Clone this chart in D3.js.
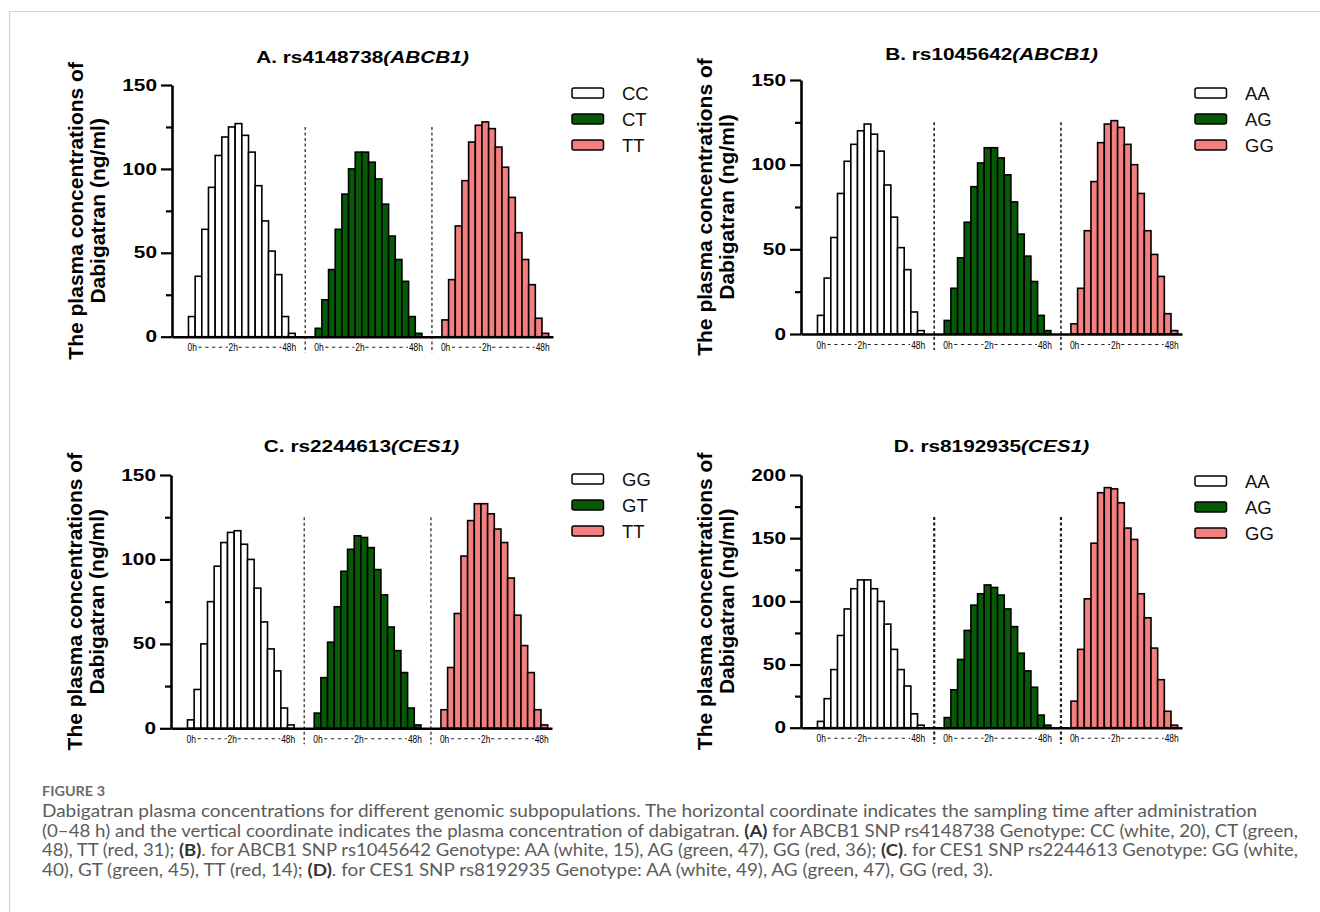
<!DOCTYPE html>
<html>
<head>
<meta charset="utf-8">
<script src="https://cdn.jsdelivr.net/npm/d3@7"></script>
<style>
  body { margin: 0; background: #fff; }
  text { font-family: "Liberation Sans", Arial, sans-serif; }
</style>
</head>
<body>
<svg width="1320" height="912"></svg>
<script>
let svg = d3.select("svg")

// concentrations (ng/ml), 16 sampling times per genotype: 0h ... 2h ... 48h
let aCC = [12, 36, 64, 89, 108, 119, 125, 127, 120, 110, 90, 69, 51, 37, 12, 2]
let aCT = [5, 22, 40, 64, 85, 100, 110, 110, 104, 94, 79, 60, 46, 33, 12, 2]
let aTT = [10, 34, 66, 93, 116, 126, 128, 124, 113, 101, 83, 62, 46, 31, 11, 2]

let bAA = [11, 33, 57, 83, 102, 112, 120, 124, 118, 108, 88, 69, 51, 38, 13, 2]
let bAG = [8, 27, 45, 66, 87, 101, 110, 110, 104, 94, 78, 59, 46, 31, 11, 2]
let bGG = [6, 27, 61, 90, 113, 124, 126, 122, 112, 100, 83, 61, 47, 34, 12, 2]

let cGG = [5, 23, 50, 75, 96, 110, 116, 117, 109, 100, 83, 63, 47, 34, 12, 2]
let cGT = [9, 30, 51, 72, 93, 106, 114, 113, 107, 94, 79, 60, 46, 33, 12, 2]
let cTT = [11, 36, 68, 102, 123, 133, 133, 127, 118, 110, 89, 67, 49, 33, 11, 2]

let dAA = [5, 23, 46, 73, 94, 110, 117, 117, 110, 100, 82, 62, 46, 33, 11, 2]
let dAG = [8, 30, 54, 77, 97, 106, 113, 111, 105, 94, 80, 59, 45, 32, 10, 2]
let dGG = [21, 62, 102, 146, 186, 190, 189, 178, 158, 149, 106, 87, 63, 38, 13, 2]

let timeLabels = ["0h", "2h", "48h"]
let yMaxes = [150, 150, 150, 200]
let titles = [["A. rs4148738", "(ABCB1)"], ["B. rs1045642", "(ABCB1)"],
              ["C. rs2244613", "(CES1)"], ["D. rs8192935", "(CES1)"]]
let genotypes = [["CC", "CT", "TT"], ["AA", "AG", "GG"], ["GG", "GT", "TT"], ["AA", "AG", "GG"]]
let series = [[aCC, aCT, aTT], [bAA, bAG, bGG], [cGG, cGT, cTT], [dAA, dAG, dGG]]
let fills = ["#ffffff", "#075b07", "#f47f7f"]

let captionHead = "FIGURE 3"
let captionLines = [
  "Dabigatran plasma concentrations for different genomic subpopulations. The horizontal coordinate indicates the sampling time after administration",
  "(0\u201348 h) and the vertical coordinate indicates the plasma concentration of dabigatran. (A) for ABCB1 SNP rs4148738 Genotype: CC (white, 20), CT (green,",
  "48), TT (red, 31); (B). for ABCB1 SNP rs1045642 Genotype: AA (white, 15), AG (green, 47), GG (red, 36); (C). for CES1 SNP rs2244613 Genotype: GG (white,",
  "40), GT (green, 45), TT (red, 14); (D). for CES1 SNP rs8192935 Genotype: AA (white, 49), AG (green, 47), GG (red, 3)."
]

// layout of the four panels
let layout = [
  { left: 172, base: 336.7, top: 85, legX: 572, legY: 93, titleY: 63, sep: 1.2 },
  { left: 801, base: 334, top: 80, legX: 1195, legY: 93, titleY: 60, sep: 1.6 },
  { left: 171, base: 728.3, top: 475, legX: 572, legY: 479, titleY: 452, sep: 1.2 },
  { left: 801, base: 727.7, top: 475, legX: 1195, legY: 481, titleY: 452, sep: 2.2 }
]
let plotW = 381
let step = 19 // 16 bars + gap of 3

// page frame
svg.append("path")
  .attr("d", "M9.5,912 V11.5 H1320")
  .style("fill", "none").style("stroke", "#d2d2d2").style("stroke-width", 1.2)

layout.forEach(function (p, k) {
  let yMax = yMaxes[k]

  let x = d3.scaleLinear()
    .domain([-2.47, 54.65])
    .range([p.left, p.left + plotW])

  let y = d3.scaleLinear()
    .domain([0, yMax])
    .range([p.base, p.top])

  let bw = x(1) - x(0)

  // bars
  series[k].forEach(function (vals, g) {
    svg.append("g").selectAll("rect")
      .data(vals)
      .join("rect")
      .attr("x", (d, j) => x(g * step + j))
      .attr("y", d => y(d))
      .attr("width", bw)
      .attr("height", d => y(0) - y(d))
      .style("fill", fills[g])
      .style("stroke", "#000")
      .style("stroke-width", 1.6)
  })

  // dashed separators between genotypes
  ;[17.5, 36.5].forEach(function (s) {
    svg.append("line")
      .attr("x1", x(s)).attr("x2", x(s))
      .attr("y1", y(yMax * 5 / 6)).attr("y2", p.base + 16)
      .style("stroke", "#222")
      .style("stroke-width", p.sep)
      .style("stroke-dasharray", "3,2.5")
  })

  // x axis line
  let xAxis = svg.append("g")
    .attr("transform", `translate(0,${p.base})`)
    .call(d3.axisBottom(x).tickValues([]).tickSizeOuter(0))
  xAxis.select(".domain").style("stroke", "#000").style("stroke-width", 2.6)

  // x labels: 0h - - - 2h - - - 48h under each group
  for (let g = 0; g < 3; g++) {
    let x0 = x(g * step), xm = x(g * step + 6.7), x1 = x(g * step + 16)
    let pos = [[x0 - 1, "start"], [xm, "middle"], [x1 + 1, "end"]]
    timeLabels.forEach(function (lab, i) {
      svg.append("text")
        .attr("transform", `translate(${pos[i][0]},${p.base + 14.5}) scale(0.8,1)`)
        .attr("text-anchor", pos[i][1])
        .style("font-size", "10.5px")
        .style("fill", "#000")
        .text(lab)
    })
    ;[[x0 + 10, xm - 5.5], [xm + 5.5, x1 - 14]].forEach(function (seg) {
      svg.append("line")
        .attr("x1", seg[0]).attr("x2", seg[1])
        .attr("y1", p.base + 10.5).attr("y2", p.base + 10.5)
        .style("stroke", "#222")
        .style("stroke-width", 1.1)
        .style("stroke-dasharray", "3.2,3.6")
    })
  }

  // y axis: major ticks with labels, minor ticks without
  let yAxis = svg.append("g")
    .attr("transform", `translate(${p.left},0)`)
    .call(d3.axisLeft(y).tickValues(d3.range(0, yMax + 1, 50)).tickSize(11).tickSizeOuter(0))
  let yMinor = svg.append("g")
    .attr("transform", `translate(${p.left},0)`)
    .call(d3.axisLeft(y).tickValues(d3.range(25, yMax, 50)).tickSize(6).tickSizeOuter(0).tickFormat(""))

  yMinor.select(".domain").remove()
  yAxis.select(".domain").style("stroke", "#000").style("stroke-width", 2.6)
  svg.selectAll(".tick line").style("stroke", "#000").style("stroke-width", 2.2)
  yAxis.selectAll(".tick text")
    .attr("x", -15 / 1.3)
    .attr("transform", "scale(1.3,1)")
    .style("font-size", "16px")
    .style("font-weight", "bold")
    .style("font-family", "'Liberation Sans', Arial, sans-serif")
    .style("fill", "#000")

  // y axis title (two lines)
  let cy = (p.base + p.top) / 2
  ;[["The plasma concentrations of", 89], ["Dabigatran (ng/ml)", 67]].forEach(function (l) {
    svg.append("text")
      .attr("transform", `translate(${p.left - l[1]},${cy}) rotate(-90)`)
      .attr("text-anchor", "middle")
      .style("font-size", "21px")
      .style("font-weight", "bold")
      .text(l[0])
  })

  // panel title
  let title = svg.append("text")
    .attr("transform", `translate(${p.left + plotW / 2},${p.titleY}) scale(1.3,1)`)
    .attr("text-anchor", "middle")
    .style("font-size", "16px")
    .style("font-weight", "bold")
  title.append("tspan").text(titles[k][0])
  title.append("tspan").style("font-style", "italic").text(titles[k][1])

  // legend
  genotypes[k].forEach(function (gt, i) {
    let ly = p.legY + i * 26
    svg.append("rect")
      .attr("x", p.legX).attr("y", ly - 5)
      .attr("width", 31.5).attr("height", 10)
      .attr("rx", 2)
      .style("fill", fills[i])
      .style("stroke", "#000")
      .style("stroke-width", 1.5)
    svg.append("text")
      .attr("x", p.legX + 50).attr("y", ly)
      .attr("dy", "0.36em")
      .style("font-size", "18.5px")
      .style("fill", "#111")
      .text(gt)
  })
})

// caption
svg.append("text")
  .attr("x", 42).attr("y", 796)
  .attr("textLength", 63).attr("lengthAdjust", "spacingAndGlyphs")
  .style("font-family", "Lato, 'Open Sans', sans-serif")
  .style("font-weight", "bold")
  .style("font-size", "13px")
  .style("fill", "#6b6b6b")
  .text(captionHead)

let lineY = [817, 836.5, 856, 875.5]
let lineW = [1215, 1256, 1256, 951]
captionLines.forEach(function (line, i) {
  let t = svg.append("text")
    .attr("x", 42).attr("y", lineY[i])
    .attr("textLength", lineW[i]).attr("lengthAdjust", "spacingAndGlyphs")
    .style("font-family", "Lato, 'Open Sans', sans-serif")
    .style("font-size", "17px")
    .style("fill", "#5b5b5b")
  line.split(/(\([A-D]\))/).forEach(function (part) {
    if (part === "") return
    t.append("tspan")
      .style("font-weight", /^\([A-D]\)$/.test(part) ? "bold" : "normal")
      .style("fill", /^\([A-D]\)$/.test(part) ? "#333" : null)
      .text(part)
  })
})
</script>
</body>
</html>
